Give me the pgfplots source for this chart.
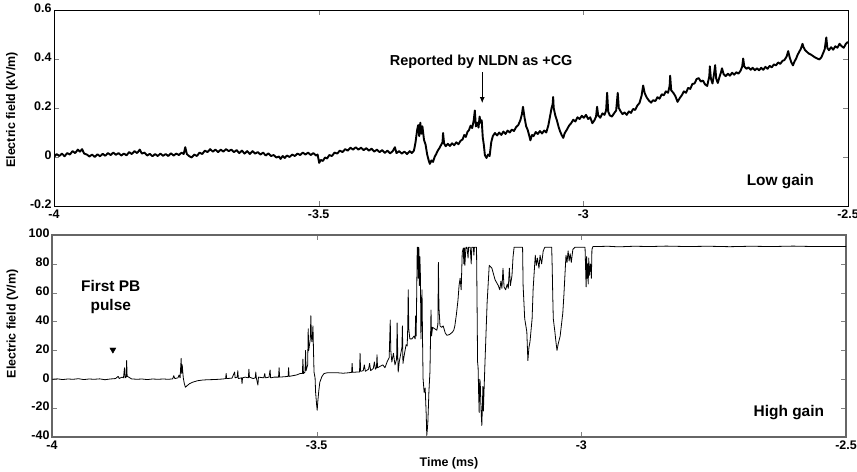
\documentclass[border=0pt]{standalone}
\usepackage{pgfplots}
\pgfplotsset{compat=1.18}
\usepackage{fontspec}
\setmainfont{Liberation Sans}
\usetikzlibrary{arrows.meta}

\pgfplotstableread{
x y
-4.000 0.000
-3.995 0.012
-3.990 0.004
-3.985 0.014
-3.980 0.003
-3.975 0.016
-3.970 0.010
-3.965 0.024
-3.960 0.016
-3.955 0.030
-3.951 0.022
-3.947 0.032
-3.943 0.014
-3.938 0.010
-3.933 0.002
-3.928 0.010
-3.923 0.000
-3.918 0.011
-3.913 0.003
-3.908 0.013
-3.903 0.005
-3.898 0.016
-3.893 0.008
-3.888 0.018
-3.883 0.009
-3.878 0.016
-3.873 0.006
-3.868 0.014
-3.863 0.007
-3.858 0.020
-3.853 0.012
-3.848 0.024
-3.843 0.016
-3.838 0.030
-3.834 0.014
-3.829 0.018
-3.824 0.006
-3.819 0.013
-3.814 0.003
-3.809 0.012
-3.804 0.004
-3.799 0.014
-3.794 0.005
-3.789 0.012
-3.784 0.004
-3.779 0.015
-3.774 0.006
-3.769 0.014
-3.764 0.008
-3.759 0.018
-3.755 0.012
-3.752 0.040
-3.749 0.012
-3.745 0.004
-3.740 -0.002
-3.735 0.010
-3.730 0.004
-3.725 0.018
-3.720 0.012
-3.715 0.026
-3.710 0.020
-3.705 0.032
-3.700 0.022
-3.695 0.030
-3.690 0.020
-3.685 0.030
-3.680 0.022
-3.675 0.032
-3.670 0.024
-3.665 0.030
-3.660 0.020
-3.655 0.028
-3.650 0.016
-3.645 0.026
-3.640 0.014
-3.635 0.024
-3.630 0.012
-3.625 0.024
-3.620 0.014
-3.615 0.020
-3.610 0.010
-3.605 0.018
-3.600 0.006
-3.595 0.015
-3.590 0.004
-3.585 0.008
-3.580 -0.002
-3.575 0.002
-3.572 -0.008
-3.568 0.004
-3.564 -0.004
-3.560 0.006
-3.555 0.000
-3.550 0.010
-3.545 0.004
-3.540 0.014
-3.535 0.008
-3.530 0.018
-3.525 0.010
-3.520 0.018
-3.515 0.008
-3.510 0.016
-3.505 0.006
-3.502 0.010
-3.499 -0.024
-3.496 -0.012
-3.492 -0.016
-3.488 -0.002
-3.484 -0.006
-3.480 0.008
-3.475 0.004
-3.470 0.018
-3.465 0.014
-3.460 0.026
-3.455 0.020
-3.450 0.032
-3.445 0.026
-3.440 0.038
-3.435 0.030
-3.430 0.040
-3.425 0.030
-3.420 0.038
-3.415 0.028
-3.410 0.036
-3.405 0.026
-3.400 0.034
-3.395 0.022
-3.390 0.030
-3.385 0.020
-3.380 0.028
-3.375 0.017
-3.370 0.026
-3.365 0.015
-3.360 0.024
-3.356 0.040
-3.353 0.016
-3.348 0.024
-3.343 0.014
-3.338 0.022
-3.333 0.012
-3.328 0.024
-3.324 0.016
-3.320 0.026
-3.317 0.060
-3.314 0.110
-3.312 0.130
-3.310 0.085
-3.308 0.140
-3.306 0.095
-3.304 0.125
-3.301 0.070
-3.298 0.050
-3.295 0.010
-3.292 -0.015
-3.290 -0.028
-3.287 -0.014
-3.284 -0.020
-3.281 0.000
-3.278 0.012
-3.275 0.026
-3.272 0.036
-3.269 0.048
-3.266 0.060
-3.265 0.098
-3.263 0.055
-3.260 0.044
-3.256 0.054
-3.252 0.045
-3.248 0.056
-3.244 0.048
-3.240 0.060
-3.236 0.052
-3.232 0.066
-3.228 0.072
-3.225 0.090
-3.222 0.082
-3.219 0.102
-3.216 0.110
-3.213 0.128
-3.210 0.118
-3.207 0.150
-3.205 0.190
-3.203 0.125
-3.200 0.140
-3.198 0.120
-3.196 0.165
-3.194 0.140
-3.192 0.150
-3.190 0.080
-3.188 0.050
-3.186 0.008
-3.183 -0.004
-3.180 0.010
-3.177 0.004
-3.174 0.060
-3.171 0.085
-3.167 0.098
-3.163 0.088
-3.159 0.100
-3.155 0.090
-3.151 0.104
-3.147 0.094
-3.143 0.108
-3.139 0.100
-3.135 0.112
-3.131 0.106
-3.127 0.122
-3.123 0.130
-3.119 0.150
-3.116 0.175
-3.114 0.205
-3.111 0.160
-3.108 0.125
-3.105 0.110
-3.102 0.085
-3.100 0.068
-3.097 0.090
-3.094 0.085
-3.090 0.102
-3.086 0.094
-3.082 0.106
-3.078 0.096
-3.074 0.108
-3.070 0.100
-3.066 0.130
-3.063 0.165
-3.060 0.200
-3.058 0.215
-3.057 0.245
-3.056 0.200
-3.053 0.170
-3.050 0.150
-3.047 0.125
-3.044 0.105
-3.041 0.090
-3.038 0.078
-3.035 0.098
-3.031 0.112
-3.027 0.128
-3.023 0.138
-3.019 0.152
-3.015 0.145
-3.011 0.162
-3.007 0.155
-3.003 0.168
-2.999 0.160
-2.995 0.172
-2.991 0.155
-2.987 0.162
-2.983 0.138
-2.979 0.150
-2.976 0.165
-2.974 0.205
-2.972 0.170
-2.968 0.160
-2.964 0.178
-2.960 0.172
-2.957 0.190
-2.955 0.262
-2.953 0.185
-2.950 0.170
-2.946 0.165
-2.942 0.178
-2.938 0.190
-2.935 0.262
-2.933 0.200
-2.930 0.188
-2.926 0.175
-2.922 0.182
-2.918 0.172
-2.914 0.186
-2.910 0.180
-2.906 0.196
-2.902 0.192
-2.898 0.210
-2.894 0.220
-2.890 0.250
-2.887 0.292
-2.884 0.260
-2.880 0.242
-2.876 0.230
-2.872 0.222
-2.868 0.232
-2.864 0.228
-2.860 0.244
-2.856 0.238
-2.852 0.256
-2.848 0.252
-2.844 0.268
-2.840 0.262
-2.837 0.290
-2.836 0.332
-2.834 0.272
-2.830 0.262
-2.826 0.248
-2.822 0.225
-2.818 0.240
-2.814 0.252
-2.810 0.268
-2.806 0.262
-2.802 0.282
-2.798 0.278
-2.794 0.298
-2.790 0.300
-2.786 0.318
-2.782 0.322
-2.778 0.308
-2.774 0.312
-2.770 0.296
-2.766 0.290
-2.762 0.330
-2.761 0.370
-2.759 0.320
-2.756 0.300
-2.753 0.340
-2.751 0.375
-2.749 0.320
-2.746 0.302
-2.743 0.325
-2.740 0.345
-2.738 0.362
-2.735 0.338
-2.731 0.330
-2.727 0.340
-2.723 0.332
-2.719 0.344
-2.715 0.336
-2.711 0.346
-2.707 0.340
-2.703 0.352
-2.700 0.368
-2.698 0.402
-2.696 0.370
-2.692 0.360
-2.688 0.366
-2.684 0.356
-2.680 0.364
-2.676 0.354
-2.672 0.362
-2.668 0.354
-2.664 0.364
-2.660 0.356
-2.656 0.368
-2.652 0.360
-2.648 0.372
-2.644 0.366
-2.640 0.378
-2.636 0.374
-2.632 0.386
-2.628 0.380
-2.624 0.392
-2.620 0.396
-2.616 0.410
-2.613 0.432
-2.610 0.405
-2.607 0.386
-2.604 0.374
-2.601 0.390
-2.598 0.402
-2.595 0.418
-2.592 0.430
-2.589 0.442
-2.586 0.462
-2.584 0.448
-2.581 0.436
-2.578 0.430
-2.574 0.422
-2.570 0.418
-2.566 0.412
-2.562 0.406
-2.558 0.402
-2.554 0.398
-2.550 0.408
-2.547 0.424
-2.544 0.440
-2.541 0.488
-2.539 0.445
-2.536 0.436
-2.532 0.448
-2.528 0.438
-2.524 0.452
-2.520 0.446
-2.516 0.462
-2.512 0.452
-2.508 0.446
-2.504 0.462
-2.500 0.470
}\lowgain

\pgfplotstableread{
x y
-4.000 0
-3.990 0.3
-3.980 -0.2
-3.970 0.2
-3.960 0
-3.950 0.4
-3.940 -0.2
-3.930 0.2
-3.920 0
-3.910 0.3
-3.900 -0.3
-3.890 0.2
-3.880 0.5
-3.875 2
-3.873 0.5
-3.868 1.5
-3.865 1
-3.863 8
-3.862 1
-3.860 1.5
-3.859 13
-3.858 2
-3.855 1.5
-3.850 0.3
-3.840 0
-3.830 0.2
-3.820 -0.2
-3.810 0.2
-3.800 0
-3.790 0.2
-3.780 0
-3.772 0.3
-3.770 2.5
-3.768 0.5
-3.762 1
-3.760 3
-3.758 1
-3.756 14.5
-3.755 4
-3.754 10
-3.752 1
-3.750 -3
-3.748 -5.5
-3.745 -4.5
-3.740 -3
-3.734 -2
-3.725 -1
-3.715 -0.5
-3.705 -0.3
-3.695 -0.2
-3.685 0
-3.677 0.2
-3.672 0.5
-3.671 4
-3.670 0.5
-3.660 0.8
-3.655 5
-3.654 1
-3.650 1.5
-3.649 6
-3.648 0.5
-3.642 1
-3.641 -3
-3.640 1
-3.635 1.5
-3.629 1
-3.628 7
-3.627 1.5
-3.620 0.5
-3.616 1
-3.615 5
-3.614 1
-3.611 -4
-3.610 1.5
-3.600 1
-3.598 4
-3.597 1
-3.590 1.5
-3.588 6.5
-3.587 1
-3.580 1.5
-3.572 1.5
-3.571 8
-3.570 1.5
-3.560 1.8
-3.554 2
-3.553 8
-3.552 2
-3.545 2.5
-3.538 3
-3.531 4
-3.527 4
-3.526 14
-3.525 4
-3.522 5
-3.521 20
-3.520 6
-3.517 10
-3.516 35
-3.515 20
-3.512 28
-3.511 44
-3.510 30
-3.509 26
-3.508 30
-3.507 37
-3.506 20
-3.505 5
-3.503 1
-3.502 -9
-3.500 -18
-3.499 -21.5
-3.498 -16
-3.496 -8
-3.494 -2
-3.490 2
-3.486 4
-3.480 4.5
-3.470 4.5
-3.460 4.5
-3.450 4.2
-3.440 4.5
-3.434 4.8
-3.433 11
-3.432 4.8
-3.425 5
-3.419 5
-3.418 18
-3.417 5.5
-3.412 6
-3.410 10
-3.408 5.5
-3.402 7
-3.400 11
-3.398 6
-3.393 7.5
-3.391 12
-3.389 7
-3.387 8
-3.386 17
-3.385 8
-3.380 9
-3.375 10
-3.371 8
-3.367 12
-3.363 15
-3.361 41
-3.360 20
-3.358 12
-3.355 18
-3.352 10
-3.349 14
-3.348 39
-3.347 20
-3.346 5
-3.344 12
-3.342 16
-3.339 22
-3.338 37
-3.337 11
-3.334 18
-3.331 24
-3.329 23
-3.328 35
-3.327 62
-3.326 35
-3.324 28
-3.320 28
-3.316 30
-3.314 28
-3.313 44
-3.312 30
-3.311 60
-3.310 91.5
-3.309 91.5
-3.308 70
-3.307 91.5
-3.306 65
-3.305 85
-3.304 72
-3.303 28
-3.302 45
-3.301 62
-3.300 28
-3.299 0.5
-3.297 -9
-3.295 -6
-3.293 -25
-3.292 -39
-3.291 -35
-3.290 -30
-3.289 -20
-3.288 -9
-3.286 5
-3.285 26
-3.284 48
-3.283 30
-3.281 36
-3.277 35
-3.273 34
-3.271 38
-3.270 81
-3.269 50
-3.267 37
-3.264 36
-3.261 37
-3.257 32
-3.254 30.5
-3.249 31
-3.244 32.5
-3.241 34
-3.239 37
-3.236 45
-3.233 55
-3.231 65
-3.229 70
-3.227 62
-3.225 88
-3.223 91
-3.222 80
-3.221 91
-3.220 79
-3.218 91.5
-3.216 91.5
-3.214 84
-3.213 91.5
-3.210 91.5
-3.208 80
-3.207 91.5
-3.204 91.5
-3.203 86
-3.202 91.5
-3.198 91.5
-3.197 53
-3.196 12
-3.195 8
-3.194 -10
-3.193 -23
-3.192 0
-3.191 -2
-3.190 -15
-3.189 -25
-3.188 -32
-3.187 -20
-3.186 -5
-3.185 -22
-3.184 -10
-3.182 12
-3.178 53
-3.174 79
-3.169 77
-3.163 69
-3.157 65
-3.154 62
-3.152 68
-3.150 63
-3.148 77
-3.146 64
-3.143 62
-3.140 66
-3.138 63
-3.136 77
-3.134 65
-3.131 72
-3.129 85
-3.127 91.5
-3.120 91.5
-3.111 91.5
-3.110 65
-3.107 42
-3.103 33
-3.101 13
-3.099 22
-3.097 26
-3.093 42
-3.091 63
-3.087 86
-3.085 79
-3.083 84
-3.080 77
-3.078 86
-3.075 80
-3.072 89
-3.069 91.5
-3.059 91.5
-3.056 91.5
-3.055 77
-3.054 58
-3.053 42
-3.050 33
-3.048 26
-3.046 20
-3.044 24
-3.040 30
-3.035 46
-3.033 58
-3.029 86
-3.027 81
-3.025 89
-3.023 82
-3.021 87
-3.019 81
-3.016 90
-3.012 91.5
-3.000 91.5
-2.993 91.5
-2.991 64
-2.990 85
-2.989 70
-2.988 80
-2.987 66
-2.986 84
-2.985 72
-2.983 80
-2.981 70
-2.980 90
-2.978 92
-2.970 92
-2.950 92.2
-2.930 91.8
-2.900 92.2
-2.870 92
-2.840 92.3
-2.800 92
-2.760 92.2
-2.720 91.9
-2.680 92.2
-2.640 92
-2.600 92.3
-2.560 92
-2.500 92
}\highgain

\begin{document}
\begin{tikzpicture}
\path[use as bounding box] (0,0) rectangle (857bp,472bp);
\pgfplotsset{
  every axis/.append style={
    scale only axis, width=794bp,
    xmin=-4, xmax=-2.5, xtick={-4,-3.5,-3,-2.5},
    tick align=inside, major tick length=5bp,
    ticklabel style={font=\fontsize{12.5}{13}\selectfont\bfseries},
    /pgf/number format/assume math mode=true,
    label style={font=\fontsize{12.5}{14}\selectfont\bfseries},
    xticklabel style={yshift=-3bp, inner sep=1bp},
    yticklabel style={xshift=1bp},
  }
}
\begin{axis}[
  at={(54bp,266bp)}, anchor=south west,
  height=196bp,
  ymin=-0.2, ymax=0.6, ytick={-0.2,0,0.2,0.4,0.6},
  axis line style={line width=0.8bp, black},
  ylabel={Electric field (kV/m)},
  ylabel style={at={(axis description cs:-0.053,0.49)}, anchor=center},
  yticklabel style={yshift=1.5bp},
]
\addplot[black, line width=1.9bp, line join=round] table {\lowgain};
\node[font=\fontsize{14.5}{16}\selectfont\bfseries] at (axis cs:-3.193,0.388) {Reported by NLDN as +CG};
\draw[-{Latex[length=6bp,width=5bp]}, line width=0.9bp] (axis cs:-3.191,0.345) -- (axis cs:-3.191,0.22);
\node[font=\fontsize{15.5}{17}\selectfont\bfseries] at (axis cs:-2.628,-0.102) {Low gain};
\end{axis}

\begin{axis}[
  at={(52bp,35bp)}, anchor=south west,
  height=202bp,
  ymin=-40, ymax=100, ytick={-40,-20,0,20,40,60,80,100},
  axis line style={line width=1.2bp, black!60},
  ylabel={Electric field (V/m)},
  ylabel style={at={(axis description cs:-0.050,0.56)}, anchor=center},
  xlabel={Time (ms)},
  xlabel style={at={(axis description cs:0.5,-0.129)}, anchor=center},
  yticklabel style={yshift=1.5bp},
]
\addplot[black, line width=0.8bp, line join=round] table {\highgain};
\addplot[only marks, mark=triangle*, mark size=3.5bp, mark options={rotate=180, fill=black}] coordinates {(-3.885,20.5)};
\node[font=\fontsize{15.5}{19}\selectfont\bfseries, align=center] at (axis cs:-3.889,56.8) {First PB\\pulse};
\node[font=\fontsize{15.5}{17}\selectfont\bfseries] at (axis cs:-2.608,-22.9) {High gain};
\end{axis}
\end{tikzpicture}
\end{document}
